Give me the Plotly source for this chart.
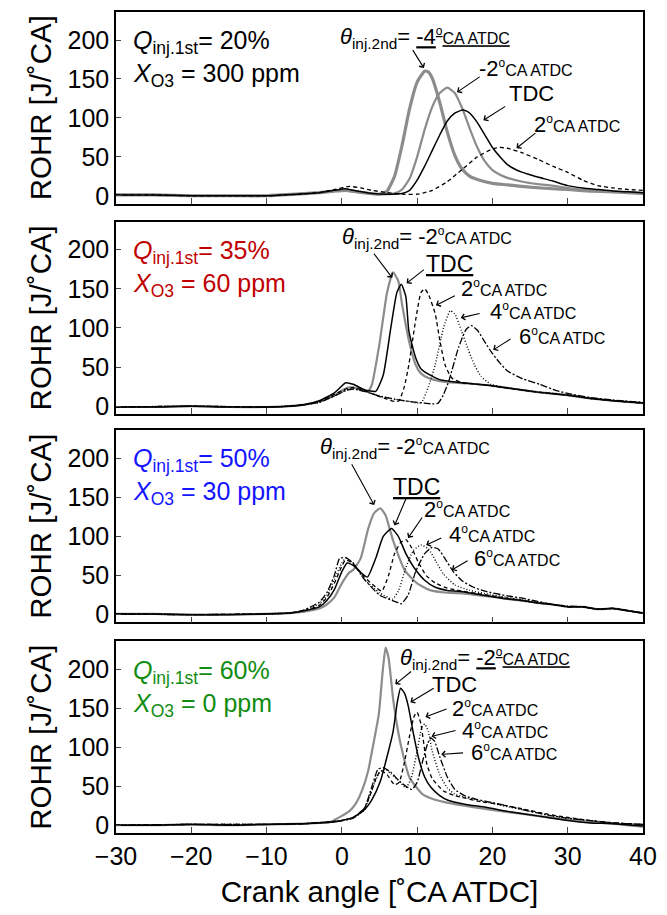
import plotly.graph_objects as go

# ---------------- data (crank angle [deg CA ATDC], ROHR [J/deg CA]) ----------------
# Panel 1: Q_inj.1st = 20 %, X_O3 = 300 ppm
p1_m4_x = [-30,-25,-20,-15,-10,-6,-3,-1,0.5,2,3.5,5,6,7,8,9,10,11,11.5,12,13,14,15,16,17,18,20,22,25,28,30,33,36,38,40]
p1_m4_y = [1,1,0,0,0,2,4,6,7,5,3,2,6,25,65,112,146,160,159,151,120,82,52,34,25,21,16,14,11,9,8,6,5,4,3]
p1_m2_x = [-30,-25,-20,-15,-10,-6,-3,-1,0.5,2,3.5,5,6,7,8,9,10,11,12,13,14,15,16,17,18,19,20,21,22,24,26,28,30,33,36,40]
p1_m2_y = [1,1,0,0,0,2,4,6,7,5,3,2,2,3,8,22,50,85,114,132,139,132,112,86,62,44,33,27,23,18,15,13,10,7,5,3]
p1_tdc_x = [-30,-25,-20,-15,-10,-6,-3,-1,0.5,2,4,6,8,9,10,11,12,13,14,15,16,16.5,17,18,19,20,21,22,23,24,25,26,28,30,32,34,36,38,40]
p1_tdc_y = [1,1,0,0,0,2,4,7,9,6,3,2,3,7,20,38,58,78,96,106,110,109,106,94,78,62,50,40,34,30,27,24,19,13,10,8,6,5,4]
p1_p2_x = [-30,-25,-20,-15,-10,-6,-3,-1,1,2.5,4,6,8,10,11,12,14,16,18,20,21,22,24,26,28,30,32,34,36,38,40]
p1_p2_y = [1,1,0,0,0,2,4,8,12,10,7,4,2,2,4,7,18,34,50,60,62,61,55,47,38,30,20,13,10,8,7]

# Panel 2: Q_inj.1st = 35 %, X_O3 = 60 ppm
p2_m2_x = [-30,-25,-20,-15,-10,-7,-5,-3,-1,0,1,2,3,3.5,4,5,6,6.8,7.5,8,9,9.8,10.5,11.5,13,15,17,20,23,26,30,33,36,40]
p2_m2_y = [-1,-1,0,-1,-1,0,2,6,14,20,24,23,20,19,28,80,145,171,160,130,80,53,42,36,32,30,29,26,22,18,14,10,7,4]
p2_tdc_x = [-30,-25,-20,-15,-10,-7,-5,-3,-1,0,0.5,1.5,3,4.5,5.5,6.5,7.3,7.9,8.5,8.9,9.8,10.5,11.5,13,14.2,16,18,20,23,26,30,33,36,40]
p2_tdc_y = [-1,-1,0,-1,-1,0,2,7,17,26,30,28,21,19,40,100,145,156,140,96,62,48,41,34,32,30,28,26,22,18,14,10,7,4]
p2_p2_x = [-30,-20,-10,-7,-5,-3,-1,0.5,1.5,3,4.5,6,7,7.6,8.3,8.9,9.8,10.5,11,11.5,12.4,13,13.7,14.6,16,18,20,23,26,30,33,36,40]
p2_p2_y = [-1,0,-1,0,2,6,15,22,24,20,14,9,6,7,25,53,110,145,150,143,118,85,53,36,30,28,26,22,18,14,10,7,4]
p2_p4_x = [-30,-20,-10,-7,-5,-3,-1,0.5,1.5,3,5,7,9,10,10.6,11.5,12.4,13.5,14.4,15,15.9,16.8,17.6,18.5,19.8,21,23,26,30,33,36,40]
p2_p4_y = [-1,0,-1,0,2,5,13,20,22,19,13,9,6,4,5,25,53,100,122,118,96,72,53,38,28,25,22,18,15,10,7,4]
p2_p6_x = [-30,-20,-10,-7,-5,-3,-1,0.5,1.5,3,5,7,9,11,12,12.8,13.5,14.2,15.5,16.5,17.2,18,19,19.8,21,22,24,26.3,28.5,30.7,33,36,40]
p2_p6_y = [-1,0,-1,0,2,5,13,20,22,19,13,9,6,4,3,4,15,32,75,98,103,97,82,70,55,45,35,28,20,15,11,8,5]

# Panel 3: Q_inj.1st = 50 %, X_O3 = 30 ppm
p3_m2_x = [-30,-25,-20,-15,-10,-7,-5,-3,-2,-1,0,1,1.5,2.5,3.5,4.3,5.1,5.8,6.8,8.4,10,11.8,14,16.3,18,20,22,24,26,28,30,32,34,36,38,40]
p3_m2_y = [1,1,0,0,1,2,4,8,13,22,40,54,57,72,110,130,136,127,95,56,40,31,28,27,25,23,20,18,15,13,10,10,7,8,5,2]
p3_tdc_x = [-30,-25,-20,-15,-10,-7,-5,-3,-2,-1,0,0.7,1.5,2.5,3.4,4.5,5.5,6.6,7.5,8.5,9.6,11,12.4,14,16.3,18,20,22,24,26,28,30,32,34,36,38,40]
p3_tdc_y = [1,1,0,0,1,2,5,10,18,32,55,66,63,54,48,72,100,110,100,78,60,44,35,31,29,26,23,20,18,15,13,10,10,7,8,5,2]
p3_p2_x = [-30,-20,-10,-7,-5,-3,-2,-1,0,0.5,1.5,3,4.5,5.3,6.2,7,7.8,8.5,9.3,10.2,11.2,12.5,14,16,18,20,22,24,26,28,30,32,34,36,38,40]
p3_p2_y = [1,0,1,2,5,12,22,40,62,70,65,48,35,30,50,78,92,96,85,66,50,40,34,30,27,24,21,18,15,13,10,10,7,8,5,2]
p3_p4_x = [-30,-20,-10,-7,-5,-3,-2,-1,0,0.5,1.5,3,5,6.7,7.5,8.5,9.5,10.5,11.5,12.5,13.5,15,17,19,22,24,26,28,30,32,34,36,38,40]
p3_p4_y = [1,0,1,2,5,14,25,45,66,72,66,45,28,20,30,60,82,89,84,68,52,38,31,27,22,19,16,13,10,10,7,8,5,2]
p3_p6_x = [-30,-20,-10,-7,-5,-3,-2,-1,-0.3,0.5,1.5,3,5,7,7.9,8.8,9.8,11,12,12.8,13.8,14.8,16,17.5,19,22,24,26,28,30,32,34,36,38,40]
p3_p6_y = [1,0,1,2,6,16,28,50,72,73,66,45,25,17,14,25,55,78,86,84,70,55,43,35,30,24,21,17,13,11,10,7,8,5,2]

# Panel 4: Q_inj.1st = 60 %, X_O3 = 0 ppm
p4_m2_x = [-30,-25,-20,-15,-10,-5,-3,-1.6,0,1,1.8,2.7,3.5,4.2,4.9,5.4,5.8,6.2,6.8,7.3,7.9,9,10.7,12,13.5,16.3,19,21.9,24.5,27.4,30,33,36,40]
p4_m2_y = [0,0,1,0,1,2,3,4,12,18,27,45,70,105,142,195,228,215,163,130,100,61,40,34,30,25,21,17,14,10,7,4,2,-2]
p4_tdc_x = [-30,-25,-20,-15,-10,-5,-3,-1,0,1.5,2.9,4,5.1,6,6.8,7.4,7.8,8.3,8.8,9.5,10.2,11,11.8,13,14.1,16.3,19.1,21.9,24.5,27.4,30,33,36,40]
p4_tdc_y = [0,0,1,0,1,2,3,4,6,10,19,33,56,88,120,160,176,170,154,118,86,62,49,38,32,27,23,18,14,10,6,3,2,-1]
p4_p2_x = [-30,-20,-10,-5,-2,0,1.5,3,4,4.6,5.2,6,7,7.6,8.3,9,9.6,10,10.5,11.3,12,13.5,15,16.3,18,20,21.9,24,27.4,30,33,36,40]
p4_p2_y = [0,1,1,2,4,6,10,22,45,62,70,65,52,55,80,115,140,145,130,78,60,44,38,35,31,28,25,21,14,10,6,3,1]
p4_p4_x = [-30,-20,-10,-5,-2,0,1.5,3,4,5,5.8,6.5,7.5,8.5,9.2,10,10.6,11,11.5,12,13,14,15,16.3,18,20,21.9,24,27.4,30,33,36,40]
p4_p4_y = [0,1,1,2,4,6,9,20,45,68,72,66,58,48,60,95,125,130,120,95,65,48,40,36,32,28,24,20,13,9,6,3,1]
p4_p6_x = [-30,-20,-10,-5,-2,0,1.5,3,4,4.8,5.5,6.5,7.5,8.5,9.3,10,10.8,11.4,11.8,12.3,13,14,15,16.3,18,20,21.9,24,27.4,30,33,36,40]
p4_p6_y = [0,1,1,2,4,6,9,22,50,72,74,68,58,50,46,55,85,105,112,108,88,62,46,38,33,29,25,20,13,9,6,3,1]

x_ticks = [-30, -20, -10, 0, 10, 20, 30, 40]
y_ticks = [0, 50, 100, 150, 200]

# ---------------- styles ----------------
FONT = "Liberation Sans, Arial, sans-serif"
GRAY = "#8c8c8c"
S_M4 = dict(color=GRAY, width=3.2)
S_M2 = dict(color=GRAY, width=2.2)
S_TDC = dict(color="black", width=1.5)
S_P2 = dict(color="black", width=1.3, dash="4px,3px")
S_P4 = dict(color="black", width=1.4, dash="1px,2px")
S_P6 = dict(color="black", width=1.3, dash="7px,2px,2px,2px")

panels = [
    [(p1_m4_x, p1_m4_y, S_M4), (p1_m2_x, p1_m2_y, S_M2), (p1_tdc_x, p1_tdc_y, S_TDC), (p1_p2_x, p1_p2_y, S_P2)],
    [(p2_m2_x, p2_m2_y, S_M2), (p2_tdc_x, p2_tdc_y, S_TDC), (p2_p2_x, p2_p2_y, S_P2), (p2_p4_x, p2_p4_y, S_P4), (p2_p6_x, p2_p6_y, S_P6)],
    [(p3_m2_x, p3_m2_y, S_M2), (p3_tdc_x, p3_tdc_y, S_TDC), (p3_p2_x, p3_p2_y, S_P2), (p3_p4_x, p3_p4_y, S_P4), (p3_p6_x, p3_p6_y, S_P6)],
    [(p4_m2_x, p4_m2_y, S_M2), (p4_tdc_x, p4_tdc_y, S_TDC), (p4_p2_x, p4_p2_y, S_P2), (p4_p4_x, p4_p4_y, S_P4), (p4_p6_x, p4_p6_y, S_P6)],
]

domains = [[0.7667, 1.0], [0.5103, 0.7448], [0.2564, 0.4909], [0.0, 0.2333]]

fig = go.Figure()
for i, traces in enumerate(panels):
    k = i + 1
    xa = "x" if k == 1 else f"x{k}"
    ya = "y" if k == 1 else f"y{k}"
    for (xs, ys, st) in traces:
        fig.add_trace(go.Scatter(x=xs, y=ys, mode="lines", line=dict(shape="spline", smoothing=0.5, **st),
                                 xaxis=xa, yaxis=ya, showlegend=False, hoverinfo="skip"))

layout = dict(width=667, height=915, margin=dict(l=116, r=16, t=10, b=82),
              paper_bgcolor="white", plot_bgcolor="white",
              font=dict(family=FONT, size=25, color="black"), showlegend=False)
for i in range(4):
    k = i + 1
    xkey = "xaxis" if k == 1 else f"xaxis{k}"
    ykey = "yaxis" if k == 1 else f"yaxis{k}"
    ya = "y" if k == 1 else f"y{k}"
    xa = "x" if k == 1 else f"x{k}"
    layout[xkey] = dict(domain=[0, 1], anchor=ya, range=[-30, 40], tickvals=x_ticks,
                        showticklabels=(k == 4), ticks="inside", ticklen=6, tickwidth=1.2,
                        showline=True, linecolor="black", linewidth=1.5, mirror=True,
                        showgrid=False, zeroline=False, tickfont=dict(size=25),
                        title=dict(text="Crank angle [˚CA ATDC]" if k == 4 else "", font=dict(size=29.5), standoff=13))
    layout[ykey] = dict(domain=domains[i], anchor=xa, range=[-10, 236], tickvals=y_ticks,
                        ticks="inside", ticklen=5, tickwidth=1.2,
                        showline=True, linecolor="black", linewidth=1.5, mirror=True,
                        showgrid=False, zeroline=False, tickfont=dict(size=25),
                        title=dict(text="ROHR [J/˚CA]", font=dict(size=29.5), standoff=7))
fig.update_layout(**layout)

ann = []
def txt(k, x, y, s, size=22, color="black", xanchor="center"):
    ann.append(dict(xref="x" if k == 1 else f"x{k}", yref="y" if k == 1 else f"y{k}", x=x, y=y, text=s,
                    showarrow=False, xanchor=xanchor, yanchor="middle", font=dict(size=size, color=color, family=FONT)))
def arr(k, x0, y0, x1, y1):
    xr = "x" if k == 1 else f"x{k}"
    yr = "y" if k == 1 else f"y{k}"
    ann.append(dict(xref=xr, yref=yr, axref=xr, ayref=yr, x=x1, y=y1, ax=x0, ay=y0, text="",
                    showarrow=True, arrowhead=4, arrowsize=1.1, arrowwidth=1.1, arrowcolor="black", standoff=0, startstandoff=0))

def ca(v):
    return f"{v}<sup><span style='font-size:12px'>o</span></sup><span style='font-size:16px'>CA ATDC</span>"

TH = "<i>θ</i><sub>inj.2nd</sub>= "

# panel labels
label_cols = ["black", "#c00000", "#1414ff", "#108c10"]
label_txt = [("20%", "300 ppm"), ("35%", "60 ppm"), ("50%", "30 ppm"), ("60%", "0 ppm")]
for i in range(4):
    k = i + 1
    q, xo = label_txt[i]
    txt(k, -28.0, 197, f"<i>Q</i><sub>inj.1st</sub>= {q}", size=25, color=label_cols[i], xanchor="left")
    txt(k, -28.0, 155, f"<i>X</i><sub>O3</sub> = {xo}", size=25, color=label_cols[i], xanchor="left")

# panel 1
txt(1, 11.0, 203, TH + "<u>" + ca("-4") + "</u>")
arr(1, 9.3, 189, 10.9, 164)
txt(1, 24.4, 164, ca("-2"))
arr(1, 18.5, 154, 15.3, 133)
txt(1, 25.2, 131, "TDC")
arr(1, 21.9, 116, 18.8, 97)
txt(1, 31.2, 92, ca("2"))
arr(1, 25.9, 82, 23.2, 61)

# panel 2
txt(2, 11.3, 215, TH + ca("-2"))
arr(2, 4.1, 197, 6.7, 164)
txt(2, 14.3, 182, "<u>TDC</u>", size=23)
arr(2, 11.1, 176, 8.6, 157)
txt(2, 21.6, 150, ca("2"))
arr(2, 15.2, 142, 12.5, 129)
txt(2, 25.4, 121, ca("4"))
arr(2, 18.5, 119, 15.8, 113)
txt(2, 29.2, 89, ca("6"))
arr(2, 22.6, 87, 20.1, 72)

# panel 3
txt(3, 8.4, 213, TH + ca("-2"))
arr(3, 1.2, 194, 4.3, 140)
txt(3, 9.9, 163, "<u>TDC</u>", size=23)
arr(3, 8.6, 150, 7.0, 114)
txt(3, 16.6, 134, ca("2"))
arr(3, 10.8, 126, 8.8, 98)
txt(3, 20.0, 102, ca("4"))
arr(3, 13.4, 99, 11.2, 89)
txt(3, 23.3, 72, ca("6"))
arr(3, 16.9, 70, 14.6, 57)

# panel 4
txt(4, 19.0, 213, TH + "<u>" + ca("-2") + "</u>")
arr(4, 9.4, 199, 7.1, 181)
txt(4, 14.9, 181, "TDC")
arr(4, 12.4, 177, 9.1, 158)
txt(4, 20.3, 150, ca("2"))
arr(4, 14.1, 150, 11.1, 139)
txt(4, 21.7, 122, ca("4"))
arr(4, 15.3, 122, 11.9, 114)
txt(4, 22.8, 93, ca("6"))
arr(4, 16.3, 93, 13.2, 91)

fig.update_layout(annotations=ann)
fig.write_html("out.html")
